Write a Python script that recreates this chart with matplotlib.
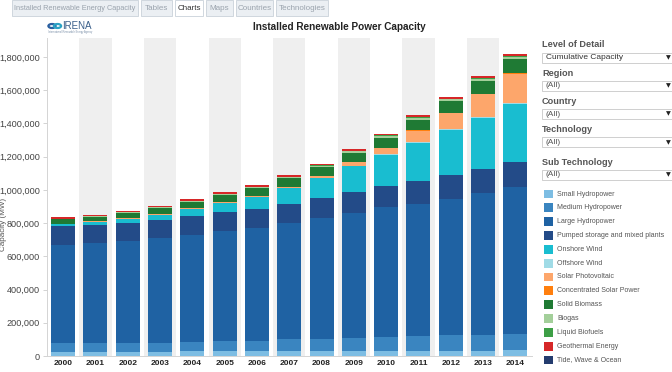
import matplotlib.pyplot as plt
from matplotlib.patches import Rectangle, Circle
from matplotlib.ticker import FuncFormatter

plt.rcParams['font.family'] = ['Liberation Sans', 'DejaVu Sans']

# data (MW)
years = ['2000', '2001', '2002', '2003', '2004', '2005', '2006', '2007',
         '2008', '2009', '2010', '2011', '2012', '2013', '2014']

small_hydro = [26, 26, 27, 27, 28, 28, 29, 29, 30, 30, 31, 31, 32, 33, 34]
medium_hydro = [50, 50, 52, 52, 57, 62, 62, 71, 72, 76, 85, 89, 92, 95, 98]
large_hydro = [594, 602, 613, 629, 644, 661, 677, 698, 726, 753, 778, 797, 822, 855, 886]
pumped = [110, 110, 108, 111, 111, 114, 117, 119, 123, 126, 132, 137, 142, 145, 148]
onshore_wind = [15, 20, 26, 32, 44, 56, 72, 92, 118, 157, 184, 229, 270, 303, 350]
offshore_wind = [0.1, 0.2, 0.3, 0.5, 0.6, 0.7, 0.9, 1.1, 1.5, 2.1, 3.1, 4.1, 5.4, 7.1, 8.7]
solar_pv = [1.2, 1.5, 2, 2.6, 3.5, 5, 6, 9, 15, 23, 40, 70, 98, 138, 175]
csp = [0.4, 0.4, 0.4, 0.4, 0.4, 0.4, 0.4, 0.5, 0.5, 0.7, 1.2, 1.7, 2.6, 3.7, 4.4]
solid_biomass = [25, 28, 32, 36, 38, 41, 46, 49, 51, 56, 60, 64, 69, 76, 81]
biogas = [4, 4, 5, 5, 6, 6, 7, 8, 9, 10, 11, 12, 13, 14, 15]
liquid_biofuels = [1, 1, 1, 1, 1, 1.5, 1.5, 2, 2, 2, 2.5, 2.5, 3, 3, 3.5]
geothermal = [8, 8.2, 8.4, 8.6, 8.8, 9, 9.3, 9.6, 10, 10.3, 10.6, 11, 11.5, 12, 12.6]
tide = [0.3, 0.3, 0.3, 0.3, 0.3, 0.3, 0.3, 0.3, 0.3, 0.3, 0.5, 0.5, 0.5, 0.5, 0.5]

tech_names = ['Small Hydropower', 'Medium Hydropower', 'Large Hydropower',
              'Pumped storage and mixed plants', 'Onshore Wind', 'Offshore Wind',
              'Solar Photovoltaic', 'Concentrated Solar Power', 'Solid Biomass',
              'Biogas', 'Liquid Biofuels', 'Geothermal Energy', 'Tide, Wave & Ocean']
series = [small_hydro, medium_hydro, large_hydro, pumped, onshore_wind, offshore_wind,
          solar_pv, csp, solid_biomass, biogas, liquid_biofuels, geothermal, tide]
colors = ['#7dbde3', '#3a85c0', '#1f62a3', '#234b88', '#19bdd0', '#a0dbe6',
          '#fda66b', '#ff7f0e', '#1f7a34', '#a3cf9a', '#3d9f46', '#d62728', '#243c6e']

W, H = 672, 372


def fx(px):
    return px / W


def fy(py):
    return 1 - py / H


fig = plt.figure(figsize=(6.72, 3.72), dpi=100)

# main chart
ax = fig.add_axes([fx(47), fy(356), (531.5 - 47) / W, (356 - 38) / H])
x = list(range(len(years)))
for i in x:
    if i % 2 == 1:
        ax.axvspan(i - 0.5, i + 0.5, color='#efefef', lw=0, zorder=0)

bottom = [0.0] * len(years)
for name, vals, col in zip(tech_names, series, colors):
    mw = [v * 1000 for v in vals]
    ax.bar(x, mw, bottom=bottom, width=0.74, color=col, lw=0, zorder=2, label=name)
    bottom = [b + v for b, v in zip(bottom, mw)]

ax.set_xlim(-0.5, len(years) - 0.5)
ax.set_ylim(0, 1914000)
ax.set_yticks(range(0, 1800001, 200000))
ax.yaxis.set_major_formatter(FuncFormatter(lambda v, p: f'{v:,.0f}'))
ax.set_xticks(x)
ax.set_xticklabels(years, fontweight='bold', fontsize=6)
ax.tick_params(axis='y', labelsize=6.6, labelcolor='#444444', color='#cccccc', length=3, width=0.6, pad=2)
ax.tick_params(axis='x', labelcolor='#222222', length=0, pad=3)
for s in ['top', 'right']:
    ax.spines[s].set_visible(False)
for s in ['left', 'bottom']:
    ax.spines[s].set_color('#d4d4d4')
    ax.spines[s].set_linewidth(0.7)

fig.text(fx(4), fy(224), 'Capacity (MW)', rotation=90, ha='center', va='center',
         fontsize=5.8, color='#555555')

# title and logo
fig.text(fx(339), fy(27), 'Installed Renewable Power Capacity', ha='center', va='center',
         fontsize=7.2, fontweight='bold', color='#222222')
fig.patches.append(Circle((fx(52), fy(26)), 3.6 / W, transform=fig.transFigure,
                          facecolor='none', edgecolor='#2a5fa0', lw=1.6))
fig.patches.append(Circle((fx(57.5), fy(26)), 3.6 / W, transform=fig.transFigure,
                          facecolor='none', edgecolor='#2aa3c4', lw=1.6))
fig.text(fx(62), fy(26), 'IRENA', ha='left', va='center', fontsize=7, color='#3a5f8a')
fig.text(fx(48), fy(32.5), 'International Renewable Energy Agency', ha='left', va='center',
         fontsize=1.8, color='#7a8fa8')

# tabs
tabs = [('Installed Renewable Energy Capacity', 12, 138), ('Tables', 141, 172),
        ('Charts', 175, 203), ('Maps', 206, 233), ('Countries', 236, 273),
        ('Technologies', 276, 328)]
for label, x0, x1 in tabs:
    active = label == 'Charts'
    fig.patches.append(Rectangle((fx(x0), fy(15.5)), (x1 - x0) / W, 15.5 / H,
                                 transform=fig.transFigure,
                                 facecolor='#ffffff' if active else '#ebeff3',
                                 edgecolor='#c9d1d9', lw=0.6))
    fig.text(fx((x0 + x1) / 2), fy(8), label, ha='center', va='center',
             fontsize=5.3 if len(label) > 20 else 5.8,
             color='#333333' if active else '#9aa3ad')

# right-hand filter panel
filters = [('Level of Detail', 44.3, 'Cumulative Capacity', 57.7),
           ('Region', 73.3, '(All)', 85.7),
           ('Country', 101.7, '(All)', 114),
           ('Technology', 130, '(All)', 142.3),
           ('Sub Technology', 162.3, '(All)', 175)]
for head, hy, val, by in filters:
    fig.text(fx(542), fy(hy), head, ha='left', va='center', fontsize=6.6,
             fontweight='bold', color='#555555')
    fig.patches.append(Rectangle((fx(542), fy(by + 5)), (680 - 542) / W, 10 / H,
                                 transform=fig.transFigure, facecolor='white',
                                 edgecolor='#c8c8c8', lw=0.6))
    fig.text(fx(546), fy(by), val, ha='left', va='center', fontsize=6,
             color='#333333' if val != '(All)' else '#555555')
    fig.text(fx(668), fy(by), '\u25bc', ha='center', va='center', fontsize=4.5,
             color='#222222', family=['DejaVu Sans'])

for k, (name, col) in enumerate(zip(tech_names, colors)):
    cy = 194 + k * 13.83
    fig.patches.append(Rectangle((fx(544), fy(cy + 4.4)), 9.3 / W, 8.8 / H,
                                 transform=fig.transFigure, facecolor=col, lw=0))
    fig.text(fx(557), fy(cy), name, ha='left', va='center', fontsize=5.0, color='#555555')

fig.savefig('out.png', dpi=100)
